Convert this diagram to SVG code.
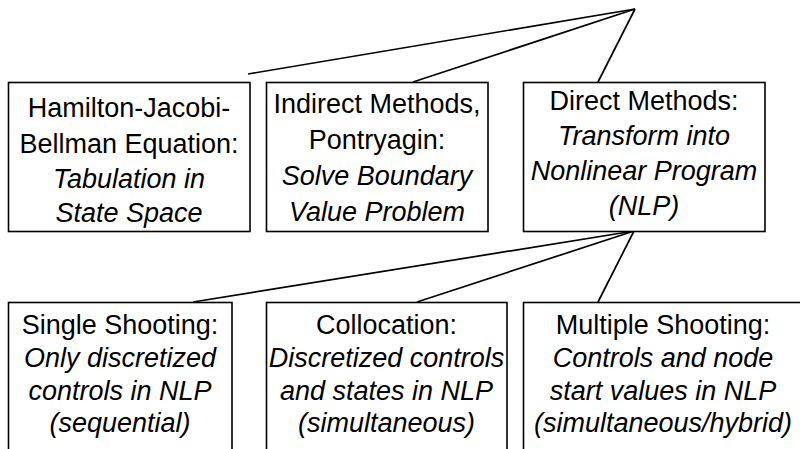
<svg xmlns="http://www.w3.org/2000/svg" width="800" height="449" viewBox="0 0 800 449">
<style>
.box{fill:#fff;stroke:#000;stroke-width:1.6}
.t{font-family:"Liberation Sans",Arial,sans-serif;font-size:27px;text-anchor:middle;fill:#000}
.i{font-style:italic}
.c{stroke:#000;stroke-width:1.7;fill:none}
</style>
<rect width="800" height="449" fill="#fff"/>
<g id="connectors">
<line class="c" x1="635" y1="9" x2="248" y2="74"/>
<line class="c" x1="635" y1="9" x2="413" y2="82"/>
<line class="c" x1="635" y1="9" x2="598" y2="82"/>
<line class="c" x1="634" y1="231" x2="193" y2="302"/>
<line class="c" x1="634" y1="231" x2="417" y2="302"/>
<line class="c" x1="634" y1="231" x2="598" y2="302"/>
</g>
<g id="hjb">
<rect class="box" x="8.5" y="82.5" width="241.5" height="149"/>
<text class="t" x="129" y="117">Hamilton-Jacobi-</text>
<text class="t" x="129" y="153">Bellman Equation:</text>
<text class="t i" x="129" y="188">Tabulation in</text>
<text class="t i" x="129" y="222">State Space</text>
</g>
<g id="indirect">
<rect class="box" x="266.5" y="82.5" width="221.5" height="149"/>
<text class="t" x="377" y="113">Indirect Methods,</text>
<text class="t" x="377" y="149">Pontryagin:</text>
<text class="t i" x="377" y="185">Solve Boundary</text>
<text class="t i" x="377" y="221">Value Problem</text>
</g>
<g id="direct">
<rect class="box" x="523.5" y="82.5" width="241.5" height="149"/>
<text class="t" x="644" y="110">Direct Methods:</text>
<text class="t i" x="644" y="145">Transform into</text>
<text class="t i" x="644" y="180">Nonlinear Program</text>
<text class="t i" x="644" y="215">(NLP)</text>
</g>
<g id="single">
<rect class="box" x="8.5" y="302.5" width="223.5" height="160"/>
<text class="t" x="120" y="334">Single Shooting:</text>
<text class="t i" x="120" y="367">Only discretized</text>
<text class="t i" x="120" y="400">controls in NLP</text>
<text class="t i" x="120" y="432">(sequential)</text>
</g>
<g id="collocation">
<rect class="box" x="266.5" y="302.5" width="240.5" height="160"/>
<text class="t" x="386.5" y="334">Collocation:</text>
<text class="t i" x="386.5" y="367">Discretized controls</text>
<text class="t i" x="386.5" y="400">and states in NLP</text>
<text class="t i" x="386.5" y="432">(simultaneous)</text>
</g>
<g id="multiple">
<rect class="box" x="523.5" y="302.5" width="280" height="160"/>
<text class="t" x="663" y="334">Multiple Shooting:</text>
<text class="t i" x="663" y="367">Controls and node</text>
<text class="t i" x="663" y="400">start values in NLP</text>
<text class="t i" x="663" y="432">(simultaneous/hybrid)</text>
</g>
</svg>
